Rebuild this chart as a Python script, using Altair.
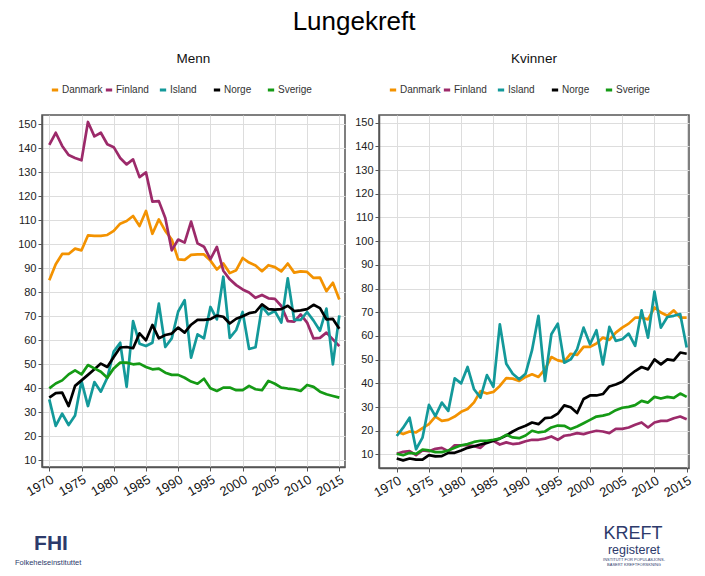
import altair as alt
import pandas as pd

years = list(range(1970, 2016))
countries = ["Danmark", "Finland", "Island", "Norge", "Sverige"]
palette = ["#F39200", "#9C2A6A", "#13999A", "#000000", "#159A15"]
x_ticks = list(range(1970, 2016, 5))
y_ticks = list(range(10, 151, 10))

# Menn (rate per 100 000)
menn_danmark = [85, 91.7, 96, 96, 98.2, 97.5, 103.7, 103.5, 103.5, 103.9,
                105.6, 108.6, 109.7, 111.8, 107.6, 113.9, 104.4, 110.4, 105.6, 102,
                93.7, 93.5, 95.6, 95.8, 95.8, 93.2, 89.5, 92, 88, 89.2,
                94.3, 92.4, 91.2, 88.8, 91.3, 90.5, 88.7, 92, 88.2, 88.7,
                88.5, 86, 86.1, 80.5, 84, 77]
menn_finland = [141.4, 146.5, 141, 137.2, 136, 135, 151, 145, 146.5, 141.7,
                140.5, 136, 133.3, 135.4, 128, 130, 117.8, 118, 111, 97.5,
                102, 100.7, 109.5, 100.4, 99, 93.8, 98.9, 89, 85.4, 83,
                81.2, 79.9, 77.7, 78.9, 77.5, 77.3, 74.3, 68, 67.8, 70.8,
                67.4, 60.8, 61, 63.2, 60.4, 57.6]
menn_island = [35.4, 24.3, 29.4, 24.7, 28.7, 43, 32.6, 42.6, 38.6, 44.4,
               55.3, 59, 40.6, 68, 58.6, 57.6, 59, 75.3, 57.2, 60.8,
               72, 76.7, 52.8, 62.5, 60.8, 73.9, 68.7, 86.5, 61, 64.3,
               71.8, 56.4, 57.1, 74, 70.8, 72.2, 67.4, 85.8, 68.5, 68.5,
               71.8, 68.2, 64, 73.2, 50, 70.4]
menn_norge = [36.1, 38, 38.2, 32.6, 41, 43.3, 45.6, 47.9, 50.3, 48.9,
              53, 57, 57.2, 56.7, 62.9, 60, 66.4, 60.8, 62.2, 62.8,
              65.3, 63.2, 66.5, 68.5, 68.5, 68.8, 70.3, 69.8, 67, 69,
              70, 71.3, 71.8, 75, 73, 72.8, 73, 74.4, 72.2, 72.5,
              73, 74.8, 73.4, 68.7, 68.9, 64.8]
menn_sverige = [40, 42, 43.3, 45.8, 47.5, 45.8, 49.7, 48.3, 46.9, 44.4,
                48.3, 50.7, 50.7, 50, 50.3, 48.9, 47.9, 48.2, 46.5, 45.6,
                45.6, 44.4, 42.8, 41.9, 44, 40, 38.9, 40.3, 40.3, 39.2,
                39.2, 41, 39.6, 39.2, 43.1, 41.9, 40.3, 39.9, 39.6, 38.9,
                41.4, 40.6, 38.6, 37.5, 36.8, 36.1]

# Kvinner
kvinner_danmark = [19.7, 18.6, 19.7, 19.3, 21.1, 22.8, 26, 24.2, 24.6, 26,
                   28, 29.2, 32, 36.7, 35.7, 36.4, 38.9, 42.2, 42, 41,
                   42.7, 43.8, 42.7, 45.9, 51.1, 49.7, 49.2, 52.5, 52, 55.4,
                   55.4, 56.8, 59.3, 58.3, 61.4, 63.5, 65.2, 67.7, 67.7, 67,
                   72, 69.9, 68.5, 70.8, 67.7, 67.7]
kvinner_finland = [10.3, 11.1, 11.4, 9.7, 11.7, 11.4, 12.4, 12.8, 11.4, 13.9,
                   13.9, 13.9, 13.5, 12.8, 15.3, 15.8, 14.2, 15.1, 14.4, 14.7,
                   15.6, 16.2, 16.2, 16.7, 17.6, 16.2, 17.9, 18.3, 19, 18.6,
                   19.4, 20, 19.7, 19, 20.8, 20.8, 21.4, 22.5, 23.5, 21.4,
                   23.5, 24.2, 24.2, 25.3, 26, 24.9]
kvinner_island = [17.8, 21.3, 25.5, 12.2, 17.1, 30.9, 26.2, 31.9, 28.4, 42.1,
                  40, 46.9, 37.5, 34, 43.5, 38.5, 64.9, 48.3, 44.1, 41.7,
                  44.1, 54, 68.5, 41, 60.7, 65.2, 48.7, 50.1, 54.4, 63.5,
                  56.5, 62.4, 48, 63.8, 57.9, 58.6, 61, 55.8, 70.8, 59.3,
                  78.7, 63.5, 68, 68.5, 69.2, 55.1]
kvinner_norge = [8.3, 7.5, 8.3, 7.8, 7.8, 9.7, 9.2, 9.3, 10.7, 10.7,
                 11.7, 12.8, 13.5, 14.2, 14.9, 15.8, 16.7, 18, 19.7, 21.1,
                 22.1, 23.5, 22.8, 25.3, 25.6, 27.2, 30.7, 29.9, 27.5, 33.4,
                 34.9, 34.9, 35.5, 38.7, 39.5, 40.7, 43.1, 45.2, 46.9, 45.9,
                 50.1, 48, 50.1, 49.7, 53, 52.5]
kvinner_sverige = [10.3, 9.7, 10.7, 10.3, 12.1, 11.7, 11, 11, 11.7, 12.8,
                   13.9, 14.4, 15.3, 15.8, 15.8, 16.2, 16.7, 18.3, 17.2, 16.9,
                   18, 20, 19.3, 19.7, 21.4, 22.2, 22.1, 20.7, 21.8, 23.2,
                   24.6, 26, 26.4, 27.1, 28.7, 29.7, 30.1, 30.8, 32.6, 31.9,
                   34.3, 33.6, 34.3, 33.9, 35.7, 34.3]

footer_left = ["FHI", "Folkehelseinstituttet"]
footer_right = ["KREFT", "registeret", "INSTITUTT FOR POPULASJONS-", "BASERT KREFTFORSKNING"]

FONT = "Liberation Sans"
navy = "#2D3A6B"
one = pd.DataFrame({"k": [0]})


def long_df(series):
    rows = []
    for land, vals in zip(countries, series):
        for yr, v in zip(years, vals):
            rows.append({"År": yr, "Rate": v, "Land": land})
    return pd.DataFrame(rows)


def ftext(txt, x, y, size, weight="normal", color=navy, align="center"):
    return alt.Chart(one).mark_text(text=txt, fontSize=size, font=FONT, fontWeight=weight,
                                    color=color, align=align, baseline="middle").encode(
        x=alt.value(x), y=alt.value(y))


def panel(df, title, xdom, ydom, w, h, lx, extras):
    lines = alt.Chart(df).mark_line(strokeWidth=2.7, strokeJoin="round").encode(
        x=alt.X("År:Q",
                scale=alt.Scale(domain=xdom, nice=False, zero=False),
                axis=alt.Axis(values=x_ticks, format="d", labelAngle=-30, title=None,
                              labelFontSize=13, labelColor="#111", grid=True)),
        y=alt.Y("Rate:Q",
                scale=alt.Scale(domain=ydom, nice=False, zero=False),
                axis=alt.Axis(values=y_ticks, title=None, labelFontSize=11)),
        color=alt.Color("Land:N",
                        scale=alt.Scale(domain=countries, range=palette),
                        legend=alt.Legend(orient="none", legendX=lx, legendY=-30,
                                          direction="horizontal", columns=5, title=None,
                                          symbolType="stroke", symbolStrokeWidth=3,
                                          symbolSize=40, labelFontSize=10,
                                          labelFont=FONT, labelColor="#333",
                                          labelOffset=2, columnPadding=-4,
                                          gridAlign="all")),
    )
    return alt.layer(lines, *extras).properties(
        width=w, height=h,
        title=alt.TitleParams(title, fontSize=13.5, font=FONT, fontWeight="normal",
                              color="#111", offset=20, anchor="middle"),
    )


left = panel(long_df([menn_danmark, menn_finland, menn_island, menn_norge, menn_sverige]),
             "Menn", [1968.87, 2015.88], [7.2, 153.9], 303, 352, 8,
             [ftext(footer_left[0], 9, 429, 21, "bold"),
              ftext(footer_left[1], -27, 448, 7.5, align="left")])
right = panel(long_df([kvinner_danmark, kvinner_finland, kvinner_island, kvinner_norge, kvinner_sverige]),
              "Kvinner", [1967.25, 2015.36], [4.3, 153.2], 310, 353, 9,
              [ftext(footer_right[0], 254, 419, 18),
               ftext(footer_right[1], 255, 435, 12.5),
               ftext(footer_right[2], 255, 445, 4),
               ftext(footer_right[3], 255, 450, 4)])

chart = alt.hconcat(left, right, spacing=34, bounds="flush").resolve_scale(
    color="independent"
).resolve_legend(
    color="independent"
).properties(
    title=alt.TitleParams("Lungekreft", fontSize=26, font=FONT, fontWeight="normal",
                          color="#000", anchor="middle", offset=16),
    padding={"left": 6, "top": 0, "right": 2, "bottom": 0},
).configure_view(
    stroke="#555", strokeWidth=1.5
).configure_axis(
    gridColor="#DDDDDD", gridWidth=1, domainColor="#555", domainWidth=1.5,
    tickColor="#555", tickSize=4, labelFont=FONT, labelColor="#222", labelPadding=2
)

chart.save("out.html", embed_options={"renderer": "svg", "actions": False})
